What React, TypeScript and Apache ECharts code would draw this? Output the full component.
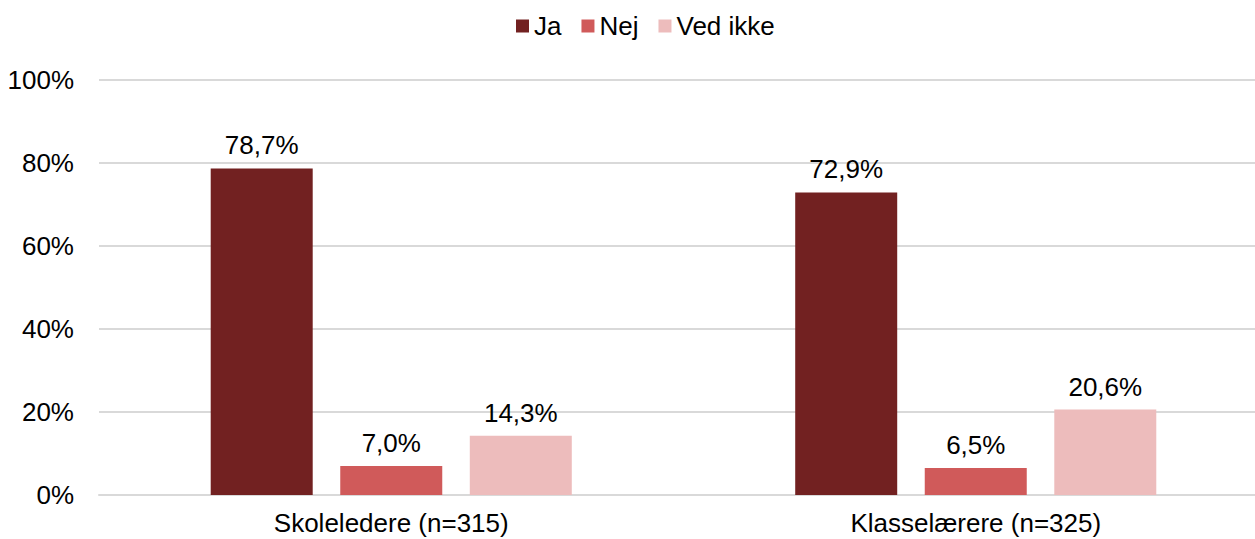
import React, { useEffect, useRef } from "react";
import * as echarts from "echarts";

const categories = ["Skoleledere (n=315)", "Klasselærere (n=325)"];
const seriesNames = ["Ja", "Nej", "Ved ikke"];
const jaValues = [78.7, 72.9];
const nejValues = [7.0, 6.5];
const vedIkkeValues = [14.3, 20.6];
const yTicks = [0, 20, 40, 60, 80, 100];

const colors = ["#722121", "#d05a5a", "#edbcbc"];
const FONT = "Liberation Sans, Arial, sans-serif";
const FS = 26;

export default function App() {
  const ref = useRef<HTMLDivElement>(null);
  useEffect(() => {
    document.body.style.margin = "0";
    if (!ref.current) return;
    const chart = echarts.init(ref.current, null, { renderer: "svg" });
    const values = [jaValues, nejValues, vedIkkeValues];
    chart.setOption({
      animation: false,
      textStyle: { fontFamily: FONT },
      legend: {
        top: 8,
        left: 511,
        itemWidth: 13,
        itemHeight: 13,
        itemGap: 20,
        icon: "rect",
        textStyle: { fontSize: FS, color: "#000", fontFamily: FONT },
        data: seriesNames,
      },
      grid: { left: 99, right: 0, top: 80, bottom: 44, containLabel: false },
      xAxis: {
        type: "category",
        data: categories,
        axisLine: { show: true, lineStyle: { color: "#d9d9d9", width: 2 } },
        axisTick: { show: false },
        axisLabel: { fontSize: FS, color: "#000", margin: 15, fontFamily: FONT },
      },
      yAxis: {
        type: "value",
        min: yTicks[0],
        max: yTicks[yTicks.length - 1],
        interval: 20,
        axisLine: { show: false },
        axisTick: { show: false },
        splitLine: { lineStyle: { color: "#d9d9d9", width: 2 } },
        axisLabel: {
          fontSize: FS,
          color: "#000",
          margin: 25,
          fontFamily: FONT,
          formatter: (v: number) => v + "%",
        },
      },
      series: seriesNames.map((name, i) => ({
        name,
        type: "bar",
        data: values[i],
        barWidth: 102,
        barGap: "27%",
        itemStyle: { color: colors[i] },
        label: {
          show: true,
          position: "top",
          distance: 10,
          fontSize: FS,
          color: "#000",
          fontFamily: FONT,
          formatter: (p: any) => p.value.toFixed(1).replace(".", ",") + "%",
        },
      })),
    });
    return () => chart.dispose();
  }, []);
  return (
    <div style={{ width: 1255, height: 539, overflow: "hidden", position: "relative" }}>
      <div ref={ref} style={{ width: 1268, height: 539, position: "absolute", left: 0, top: 0 }} />
    </div>
  );
}
